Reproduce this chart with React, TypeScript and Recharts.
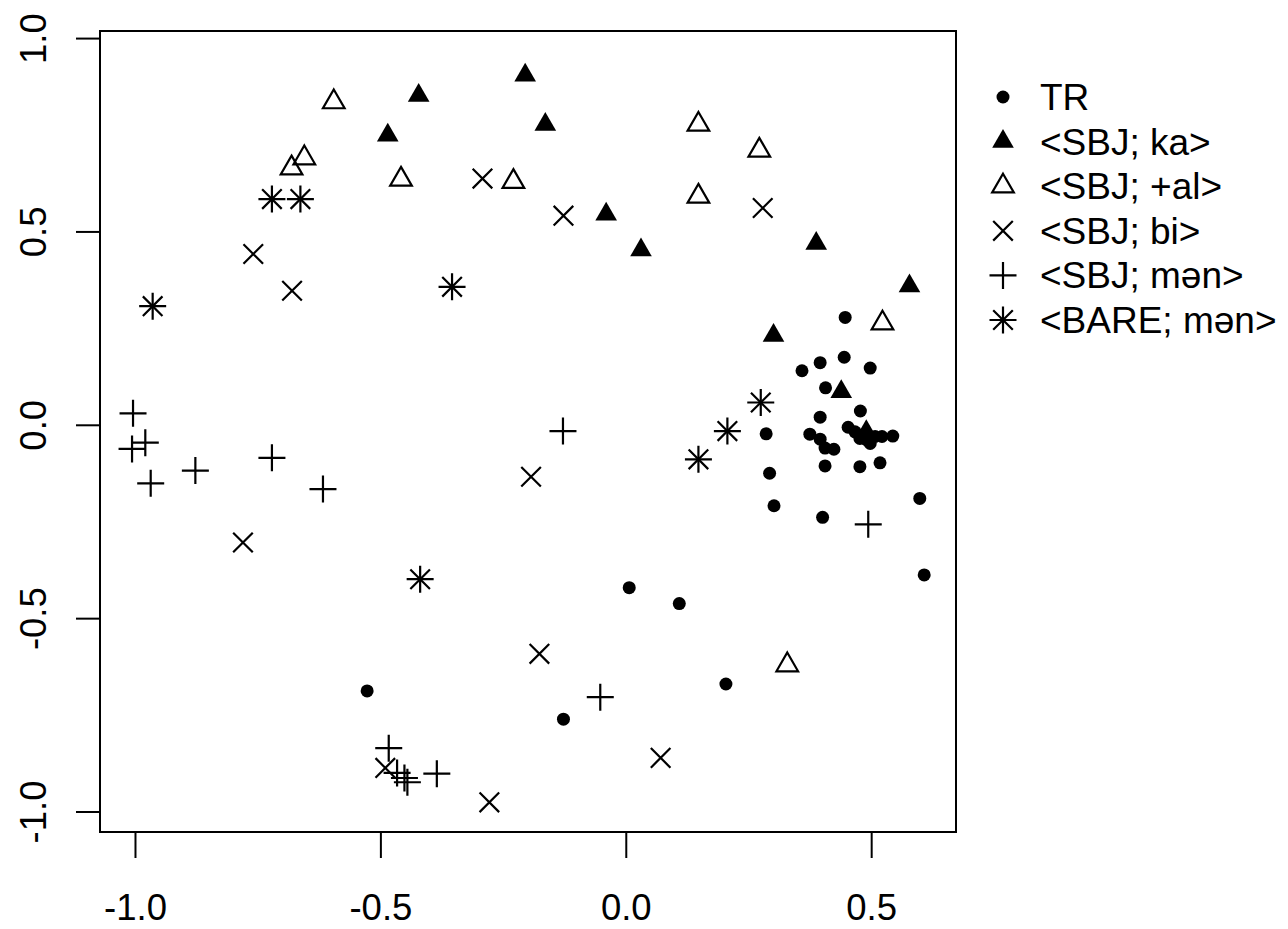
import React from 'react';
import { ScatterChart, Scatter, XAxis, YAxis, ReferenceArea, Legend } from 'recharts';

// axis setup (R default: data range + 4% each side)
const xDomain: [number, number] = [-1.0723, 0.6718];
const yDomain: [number, number] = [-1.0517, 1.0196];
const xTicks = [-1.0, -0.5, 0.0, 0.5];
const yTicks = [-1.0, -0.5, 0.0, 0.5, 1.0];

// series values, [x, y]
const trPoints = [
  [0.446, 0.279], [0.358, 0.141], [0.395, 0.162], [0.444, 0.176], [0.497, 0.148],
  [0.406, 0.097], [0.395, 0.021], [0.477, 0.037], [0.452, -0.005], [0.285, -0.022],
  [0.374, -0.023], [0.395, -0.036], [0.405, -0.059], [0.423, -0.062], [0.466, -0.017],
  [0.48, -0.025], [0.49, -0.038], [0.497, -0.047], [0.476, -0.034], [0.507, -0.029],
  [0.521, -0.029], [0.543, -0.028], [0.405, -0.105], [0.476, -0.107], [0.517, -0.097],
  [0.292, -0.124], [0.301, -0.208], [0.4, -0.238], [0.598, -0.189], [0.607, -0.387],
  [0.006, -0.42], [0.108, -0.461], [0.203, -0.669], [-0.128, -0.76], [-0.528, -0.687],
];
const kaPoints = [
  [-0.206, 0.905], [-0.423, 0.853], [-0.486, 0.75], [-0.165, 0.778], [-0.041, 0.546],
  [0.03, 0.453], [0.387, 0.47], [0.577, 0.36], [0.3, 0.232], [0.438, 0.087], [0.489, -0.017],
];
const alPoints = [
  [-0.596, 0.836], [-0.656, 0.691], [-0.682, 0.665], [-0.459, 0.636], [-0.23, 0.63],
  [0.147, 0.778], [0.271, 0.711], [0.147, 0.592], [0.522, 0.264], [0.328, -0.62],
];
const biPoints = [
  [-0.293, 0.638], [-0.128, 0.542], [0.278, 0.562], [-0.76, 0.443], [-0.681, 0.348],
  [-0.194, -0.133], [-0.781, -0.303], [-0.177, -0.591], [-0.491, -0.886], [-0.279, -0.975],
  [0.07, -0.86],
];
const menPoints = [
  [-1.005, 0.031], [-0.98, -0.045], [-1.007, -0.061], [-0.969, -0.15], [-0.878, -0.117],
  [-0.722, -0.084], [-0.618, -0.165], [-0.129, -0.015], [0.493, -0.256], [-0.053, -0.703],
  [-0.484, -0.835], [-0.467, -0.899], [-0.452, -0.912], [-0.446, -0.923], [-0.386, -0.901],
];
const barePoints = [
  [-0.965, 0.308], [-0.722, 0.585], [-0.664, 0.585], [-0.355, 0.358], [-0.42, -0.398],
  [0.147, -0.088], [0.206, -0.015], [0.274, 0.059],
];

const seriesNames = ['TR', '<SBJ; ka>', '<SBJ; +al>', '<SBJ; bi>', '<SBJ; mən>', '<BARE; mən>'];
const seriesKinds = ['dot', 'tri', 'otri', 'cross', 'plus', 'star'];
const seriesData = [trPoints, kaPoints, alPoints, biPoints, menPoints, barePoints];

const FONT = '"Liberation Sans", Arial, sans-serif';

const Marker = ({ kind, cx, cy }: { kind: string; cx: number; cy: number }) => {
  const sw = 2.2;
  if (kind === 'dot') return <circle cx={cx} cy={cy} r={6.5} fill="#000" />;
  if (kind === 'tri' || kind === 'otri') {
    const r = 12.5;
    const hw = (r * Math.sqrt(3)) / 2;
    const pts = `${cx},${cy - r} ${cx + hw},${cy + r / 2} ${cx - hw},${cy + r / 2}`;
    return kind === 'tri'
      ? <polygon points={pts} fill="#000" />
      : <polygon points={pts} fill="none" stroke="#000" strokeWidth={sw} strokeLinejoin="miter" />;
  }
  const p = 13.5;
  const c = 9.8;
  const plus = <path d={`M${cx - p},${cy}H${cx + p}M${cx},${cy - p}V${cy + p}`} />;
  const cross = <path d={`M${cx - c},${cy - c}L${cx + c},${cy + c}M${cx - c},${cy + c}L${cx + c},${cy - c}`} />;
  return (
    <g stroke="#000" strokeWidth={sw} fill="none">
      {kind !== 'cross' && plus}
      {kind !== 'plus' && cross}
    </g>
  );
};

const XTick = (props: any) => {
  const { x, y, payload } = props;
  return (
    <text x={x} y={y + 62} textAnchor="middle" fontFamily={FONT} fontSize={36.5} fill="#000">
      {Number(payload.value).toFixed(1)}
    </text>
  );
};

const YTick = (props: any) => {
  const { x, y, payload } = props;
  const bx = x - 30;
  return (
    <text x={bx} y={y} transform={`rotate(-90, ${bx}, ${y})`} textAnchor="middle"
      fontFamily={FONT} fontSize={36.5} fill="#000">
      {Number(payload.value).toFixed(1)}
    </text>
  );
};

const LegendBox = () => (
  <svg width={310} height={300}>
    {seriesNames.map((name, i) => {
      const cy = 27 + i * 44.6;
      return (
        <g key={name}>
          <Marker kind={seriesKinds[i]} cx={23} cy={cy} />
          <text x={60} y={cy + 13} fontFamily={FONT} fontSize={37} fill="#000">{name}</text>
        </g>
      );
    })}
  </svg>
);

export default function App() {
  const data = seriesData.map(pts => pts.map(([x, y]) => ({ x, y })));
  return (
    <div style={{ position: 'absolute', left: 0, top: 0, background: '#fff' }}>
      <ScatterChart width={1288} height={929} margin={{ top: 31, right: 332, bottom: 0, left: 0 }}>
        <XAxis
          type="number"
          dataKey="x"
          domain={xDomain}
          ticks={xTicks}
          allowDataOverflow
          axisLine={false}
          tickLine={{ stroke: '#000', strokeWidth: 2 }}
          tickSize={26}
          tickMargin={0}
          height={97}
          tick={<XTick />}
        />
        <YAxis
          type="number"
          dataKey="y"
          domain={yDomain}
          ticks={yTicks}
          allowDataOverflow
          axisLine={false}
          tickLine={{ stroke: '#000', strokeWidth: 2 }}
          tickSize={24}
          tickMargin={0}
          width={100}
          tick={<YTick />}
        />
        <ReferenceArea
          x1={xDomain[0]}
          x2={xDomain[1]}
          y1={yDomain[0]}
          y2={yDomain[1]}
          fill="none"
          stroke="#000"
          strokeWidth={2}
          ifOverflow="visible"
        />
        {data.map((pts, i) => (
          <Scatter
            key={seriesNames[i]}
            name={seriesNames[i]}
            data={pts}
            isAnimationActive={false}
            shape={(p: any) => <Marker kind={seriesKinds[i]} cx={p.cx} cy={p.cy} />}
          />
        ))}
        <Legend
          layout="vertical"
          align="center"
          verticalAlign="middle"
          wrapperStyle={{ left: 980, top: 70, width: 310, height: 300 }}
          content={<LegendBox />}
        />
      </ScatterChart>
    </div>
  );
}
